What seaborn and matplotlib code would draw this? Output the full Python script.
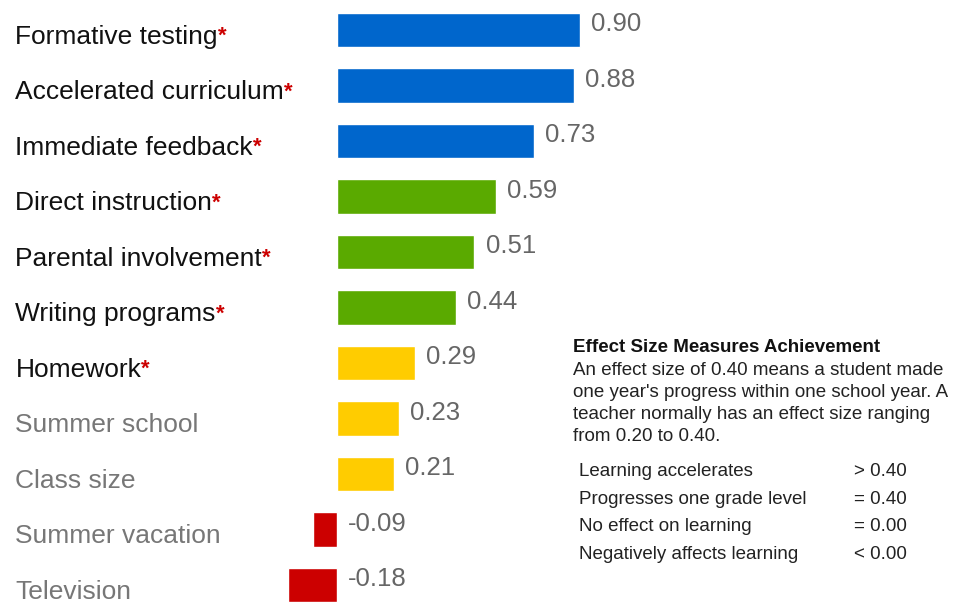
import pandas as pd
import seaborn as sns
import matplotlib.pyplot as plt

# data
practices = ["Formative testing", "Accelerated curriculum", "Immediate feedback",
             "Direct instruction", "Parental involvement", "Writing programs",
             "Homework", "Summer school", "Class size", "Summer vacation", "Television"]
effect = [0.90, 0.88, 0.73, 0.59, 0.51, 0.44, 0.29, 0.23, 0.21, -0.09, -0.18]
band = ["high", "high", "high", "mid", "mid", "mid", "low", "low", "low", "neg", "neg"]
significant = [True, True, True, True, True, True, True, False, False, False, False]

band_colors = {"high": "#0066cc", "mid": "#5aaa00", "low": "#ffcc00", "neg": "#cc0000"}

note_title = "Effect Size Measures Achievement"
note_body = ("An effect size of 0.40 means a student made\n"
             "one year's progress within one school year. A\n"
             "teacher normally has an effect size ranging\n"
             "from 0.20 to 0.40.")
scale_names = ["Learning accelerates", "Progresses one grade level",
               "No effect on learning", "Negatively affects learning"]
scale_values = ["> 0.40", "= 0.40", "= 0.00", "< 0.00"]

df = pd.DataFrame({"practice": practices, "effect": effect, "band": band})

sns.set_theme(style="white")
plt.rcParams["font.family"] = ["Liberation Sans", "DejaVu Sans"]

fig = plt.figure(figsize=(9.65, 6.11), dpi=100)
ax = fig.add_axes([0, 0, 1, 1])

sns.barplot(data=df, x="effect", y="practice", hue="band", palette=band_colors,
            dodge=False, legend=False, width=0.62, orient="h", ax=ax, saturation=1)

ax.set_xlim(-1.25, 2.33)
ax.set_ylim(10.47, -0.54)
ax.axis("off")

trans = ax.get_yaxis_transform()
for i, (name, v, sig) in enumerate(zip(practices, effect, significant)):
    col = "#111111" if sig else "#777777"
    t = ax.text(0.016, i + 0.12, name, transform=trans, ha="left", va="center",
                fontsize=19, color=col)
    if sig:
        ax.annotate("*", xy=(1, 0.95), xycoords=t, ha="left", va="top",
                    fontsize=16, color="#cc0000", fontweight="bold")
    ax.annotate(f"{v:.2f}", xy=(max(v, 0), i - 0.1), xytext=(8, 0),
                textcoords="offset points", ha="left", va="center",
                fontsize=18.5, color="#666666")

# explanation box on the right
fig.text(0.594, 0.445, note_title, fontsize=13.5, fontweight="bold",
         color="#111111", ha="left", va="top")
fig.text(0.594, 0.408, note_body, fontsize=13.5, color="#222222",
         ha="left", va="top", linespacing=1.38)
for k, (nm, val) in enumerate(zip(scale_names, scale_values)):
    y = 0.228 - k * 0.045
    fig.text(0.600, y, nm, fontsize=13.5, color="#222222", ha="left", va="center")
    fig.text(0.885, y, val, fontsize=13.5, color="#222222", ha="left", va="center")

fig.savefig("out.png", dpi=100, facecolor="white")
